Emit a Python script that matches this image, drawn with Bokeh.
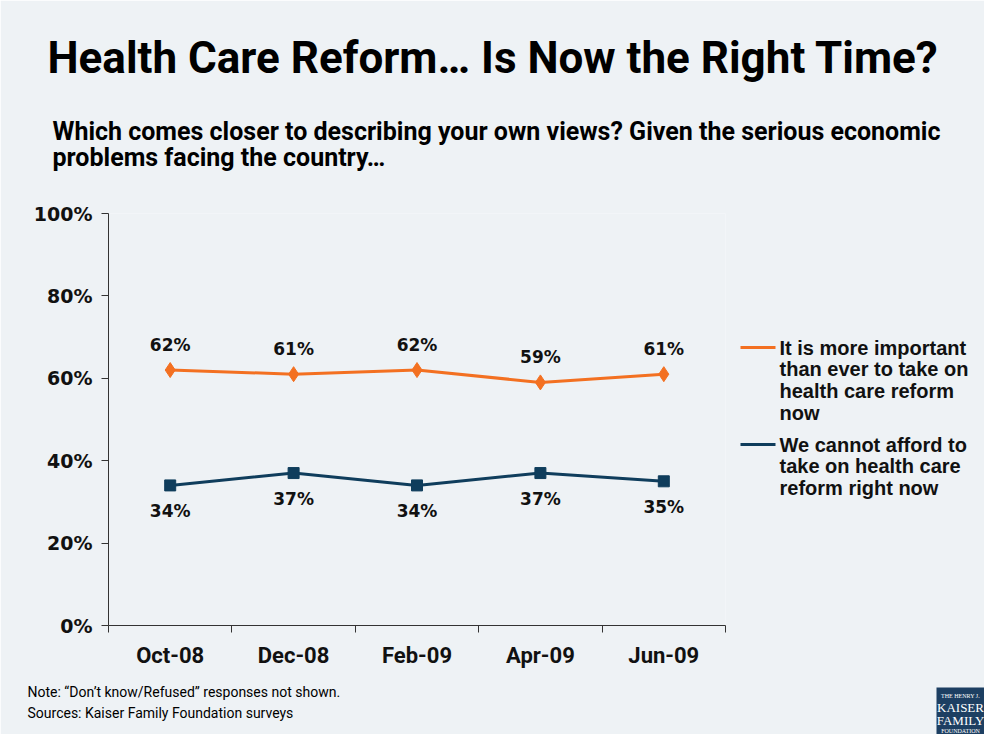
from bokeh.plotting import figure
from bokeh.models import (FactorRange, Range1d, CategoricalAxis, FixedTicker,
                          CustomJSTickFormatter, PrintfTickFormatter, ColumnDataSource,
                          LabelSet)
from bokeh.core.properties import value
from bokeh.embed import file_html
from bokeh.resources import INLINE

# ---- data ----
months = ["Oct-08", "Dec-08", "Feb-09", "Apr-09", "Jun-09"]
important_now = [62, 61, 62, 59, 61]
cannot_afford = [34, 37, 34, 37, 35]
y_ticks = [0, 20, 40, 60, 80, 100]
series_names = [
    "It is more important\nthan ever to take on\nhealth care reform\nnow",
    "We cannot afford to\ntake on health care\nreform right now",
]
title_text = "Health Care Reform\u2026 Is Now the Right Time?"
subtitle_lines = [
    "Which comes closer to describing your own views? Given the serious economic",
    "problems facing the country\u2026",
]
note_lines = [
    "Note: \u201cDon\u2019t know/Refused\u201d responses not shown.",
    "Sources: Kaiser Family Foundation surveys",
]
logo_lines = ["THE HENRY J.", "KAISER", "FAMILY", "FOUNDATION"]

# ---- styling / page geometry (pixels) ----
BG = "#EEF2F5"
ORANGE = "#F37021"
NAVY = "#0F3D5C"
LOGO = "#1D3F62"
AXIS = "#333333"
TXT = "#111111"
HEAD_FONT = "Roboto"
W, H = 984, 734
FL, FR, FT, FB = 108, 725, 213, 625   # frame edges

p = figure(x_range=FactorRange(*months, range_padding=0), y_range=Range1d(0, 100),
           width=W, height=H, output_backend="svg", toolbar_location=None,
           x_axis_location=None, y_axis_location="left",
           min_border_left=FL, min_border_right=W - FR, min_border_top=FT,
           min_border_bottom=H - FB,
           background_fill_color=BG, border_fill_color=BG, outline_line_color=None)
p.grid.visible = False
# page-pixel coordinate system for decorations outside the plot frame
p.extra_y_ranges = {"px": Range1d(start=FB, end=FT)}


def sx(px):
    """page x pixel -> synthetic categorical coordinate"""
    return (px - FL) / ((FR - FL) / len(months))


ya = p.yaxis[0]
ya.ticker = FixedTicker(ticks=y_ticks)
ya.formatter = PrintfTickFormatter(format="%d%%")
ya.major_tick_out = 7
ya.major_tick_in = 0
ya.minor_tick_out = 0
ya.minor_tick_in = 0
ya.axis_line_color = AXIS
ya.major_tick_line_color = AXIS
ya.major_label_standoff = 9
ya.major_label_text_font = "DejaVu Sans"
ya.major_label_text_font_style = "bold"
ya.major_label_text_font_size = "19px"
ya.major_label_text_color = TXT

# boundary ticks between categories (synthetic coordinates 0..n)
tick_axis = CategoricalAxis(ticker=FixedTicker(ticks=list(range(len(months) + 1))),
                            formatter=CustomJSTickFormatter(code="return ''"),
                            major_tick_out=7, major_tick_in=0, minor_tick_out=0, minor_tick_in=0,
                            axis_line_color=AXIS, major_tick_line_color=AXIS,
                            major_label_text_font_size="1px", major_label_standoff=0)
p.add_layout(tick_axis, "below")
cat_axis = CategoricalAxis(axis_line_color=None, major_tick_line_color=None,
                           minor_tick_line_color=None, major_label_standoff=4,
                           major_label_text_font=HEAD_FONT, major_label_text_font_style="bold",
                           major_label_text_font_size="22px", major_label_text_color=TXT)
p.add_layout(cat_axis, "below")

src = ColumnDataSource(dict(
    month=months, imp=important_now, cant=cannot_afford,
    imp_lbl=[f"{v}%" for v in important_now], cant_lbl=[f"{v}%" for v in cannot_afford]))

l1 = p.line("month", "imp", source=src, line_color=ORANGE, line_width=3)
s1 = p.scatter("month", "imp", source=src, marker="diamond", size=15, color=ORANGE)
l2 = p.line("month", "cant", source=src, line_color=NAVY, line_width=3)
s2 = p.scatter("month", "cant", source=src, marker="square", size=11, color=NAVY)

lbl_style = dict(text_align="center", text_baseline="middle", text_font=value("DejaVu Sans"),
                 text_font_style="bold", text_font_size="17px", text_color=TXT)
p.add_layout(LabelSet(x="month", y="imp", text="imp_lbl", source=src, y_offset=25, **lbl_style))
p.add_layout(LabelSet(x="month", y="cant", text="cant_lbl", source=src, y_offset=-26, **lbl_style))


def deco_text(xs, ys, texts, font, size, style="normal", align="left", color="#000000"):
    p.text(x=[sx(v) for v in xs], y=ys, text=texts, y_range_name="px", level="overlay",
           text_font=value(font), text_font_size=size, text_font_style=style,
           text_align=align, text_baseline="middle", text_color=color)


# ---- header ----
deco_text([47], [57], [title_text], HEAD_FONT, "44px", style="bold")
deco_text([52, 52], [131, 157], subtitle_lines, HEAD_FONT, "25px", style="bold")

# ---- legend (drawn beside the frame) ----
LEG_Y = [347, 444]
LINE_H = 21.7
for name, color, marker, msize, ly in [(series_names[0], ORANGE, "diamond", 12, LEG_Y[0]),
                                       (series_names[1], NAVY, "square", 10, LEG_Y[1])]:
    p.line(x=[sx(740), sx(775)], y=[ly, ly], y_range_name="px", level="overlay",
           line_color=color, line_width=3)
    p.scatter(x=[sx(757.5)], y=[ly], y_range_name="px", level="overlay",
              marker=marker, size=msize, color=color)
    lines = name.split("\n")
    deco_text([779] * len(lines), [ly + i * LINE_H for i in range(len(lines))], lines,
              "Liberation Sans", "20px", style="bold", color=TXT)

# ---- footer ----
deco_text([27, 27], [691, 712], note_lines, HEAD_FONT, "14px")
p.quad(left=[sx(936)], right=[sx(984)], top=[687], bottom=[H], y_range_name="px",
       level="overlay", fill_color=LOGO, line_color=None)
p.text(x=[sx(960)] * 4, y=[695, 707, 720, 730], text=logo_lines, y_range_name="px",
       level="overlay", text_font=value("Liberation Serif"),
       text_font_size=["6px", "13px", "13px", "6px"], text_align="center",
       text_baseline="middle", text_color="white")

open("out.html", "w").write(file_html(p, INLINE))
